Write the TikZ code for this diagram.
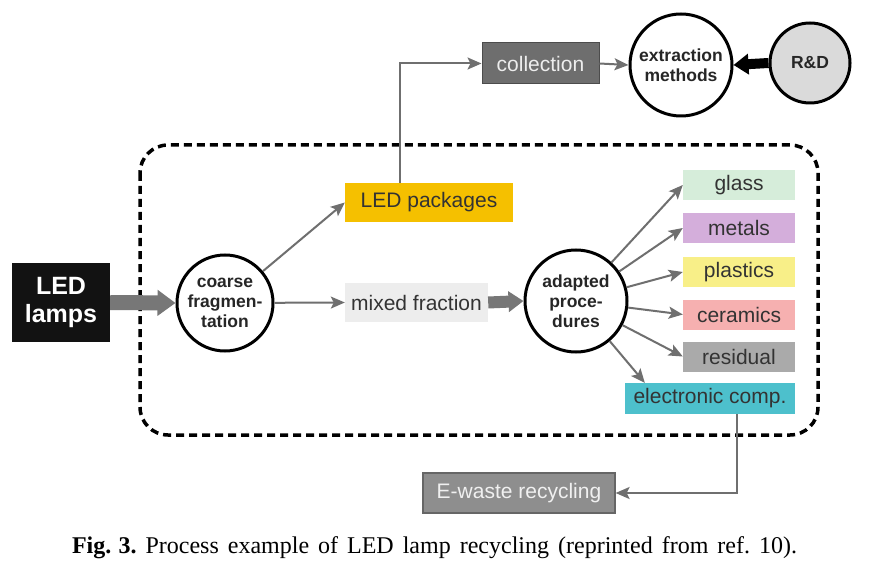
\documentclass[tikz,border=0pt]{standalone}
\usepackage{fontspec}
\setmainfont{Liberation Sans}
\newfontfamily\capfont{Liberation Serif}
\usetikzlibrary{arrows.meta}
\definecolor{txt}{HTML}{333333}
\definecolor{arr}{HTML}{6F6F6F}
\definecolor{thick}{HTML}{777777}
\definecolor{ledpk}{HTML}{F5C000}
\definecolor{mixed}{HTML}{EDEDED}
\definecolor{coll}{HTML}{6E6E6E}
\definecolor{ewaste}{HTML}{8E8E8E}
\definecolor{glassc}{HTML}{D6EDDA}
\definecolor{metalc}{HTML}{D4AEDB}
\definecolor{plastc}{HTML}{F8EF88}
\definecolor{ceramc}{HTML}{F6B0B0}
\definecolor{residc}{HTML}{AAAAAA}
\definecolor{elecc}{HTML}{4DC0CC}
\definecolor{rdc}{HTML}{DADADA}
\begin{document}
\begin{tikzpicture}[x=1pt,y=-1pt,
  box/.style={rectangle, inner sep=0pt, text=txt, font=\fontsize{21}{25}\selectfont},
  outbox/.style={box, minimum width=112pt, minimum height=30pt},
  circ/.style={circle, draw=black, line width=3pt, fill=white, inner sep=0pt, align=center,
    text=black!85, font=\bfseries\fontsize{17.5}{20}\selectfont},
  thinarrow/.style={draw=arr, line width=2pt, -{Stealth[length=14pt,width=12pt,inset=3pt]}},
  bigarrow/.style={draw=thick, line width=15pt, -{Triangle[length=18pt,width=25pt]}},
  midarrow/.style={draw=thick, line width=12pt, -{Triangle[length=15pt,width=20pt]}},
  blackarrow/.style={draw=black, line width=10pt, -{Triangle[length=15pt,width=20pt]}}
]
\useasboundingbox[fill=white] (0,0) rectangle (869,561);

% dashed enclosure
\draw[line width=3.5pt, dash pattern=on 8pt off 5pt, rounded corners=28pt] (140,145) rectangle (818,435);

% nodes
\node[rectangle, fill=black!93, minimum width=98pt, minimum height=79pt, inner sep=0pt, align=center,
  text=white, font=\bfseries\fontsize{25}{28}\selectfont] (lamps) at (61,302.5) {LED\\lamps};
\node[circ, minimum size=96pt] (coarse) at (225,303) {coarse\\fragmen-\\tation};
\node[circ, minimum size=102pt] (adapted) at (576,301) {adapted\\proce-\\dures};
\node[box, fill=ledpk, minimum width=168pt, minimum height=39pt] (packages) at (429,202.5) {LED packages};
\node[box, fill=mixed, minimum width=143pt, minimum height=39pt] (mixed) at (416.5,302.5) {mixed fraction};
\node[box, fill=coll, draw=black!70, line width=1pt, text=white!93!black, minimum width=117pt, minimum height=41pt] (collection) at (540.5,63.5) {collection};
\node[circ, minimum size=102pt] (extraction) at (681,65) {extraction\\methods};
\node[circ, fill=rdc, minimum size=80pt] (rd) at (810,63) {R\&D};

\node[outbox, fill=glassc] (glass) at (739,185) {glass};
\node[outbox, fill=metalc] (metals) at (739,228) {metals};
\node[outbox, fill=plastc] (plastics) at (739,272) {plastics};
\node[outbox, fill=ceramc] (ceramics) at (739,314.5) {ceramics};
\node[outbox, fill=residc] (residual) at (739,356.5) {residual};
\node[box, fill=elecc, minimum width=170pt, minimum height=31pt] (electronic) at (710,398.5) {electronic comp.};
\node[box, fill=ewaste, draw=black!60, line width=1.2pt, text=white!94!black, minimum width=192pt, minimum height=40pt] (ewaste) at (519,493) {E-waste recycling};

% connectors
\draw[bigarrow] (lamps.east) -- (coarse.west);
\draw[thinarrow] (coarse) -- (packages.west);
\draw[thinarrow] (coarse) -- (mixed.west);
\draw[midarrow] (mixed.east) -- (adapted.west);
\draw[thinarrow] (adapted) -- (glass.west);
\draw[thinarrow] (adapted) -- (metals.west);
\draw[thinarrow] (adapted) -- (plastics.west);
\draw[thinarrow] (adapted) -- (ceramics.west);
\draw[thinarrow] (adapted) -- (residual.west);
\coordinate (elecin) at ([xshift=20pt]electronic.north west);
\draw[thinarrow] (adapted) -- (elecin);
\coordinate (pkup) at (packages.north -| 400,0);
\draw[thinarrow] (pkup) |- (collection.west);
\draw[thinarrow] (collection.east) -- (extraction.west);
\draw[blackarrow] (rd.west) -- (extraction.east);
\coordinate (elecdown) at (electronic.south -| 737,0);
\draw[thinarrow] (elecdown) |- (ewaste.east);

% caption
\node[anchor=base, inner sep=0pt] (caption) at (434.5,553)
  {\capfont\fontsize{24}{28}\selectfont\frenchspacing\makebox[725pt][s]{\textbf{Fig.\hspace{0.3em}3.} Process example of LED lamp recycling (reprinted from ref. 10).}};
\end{tikzpicture}
\end{document}
